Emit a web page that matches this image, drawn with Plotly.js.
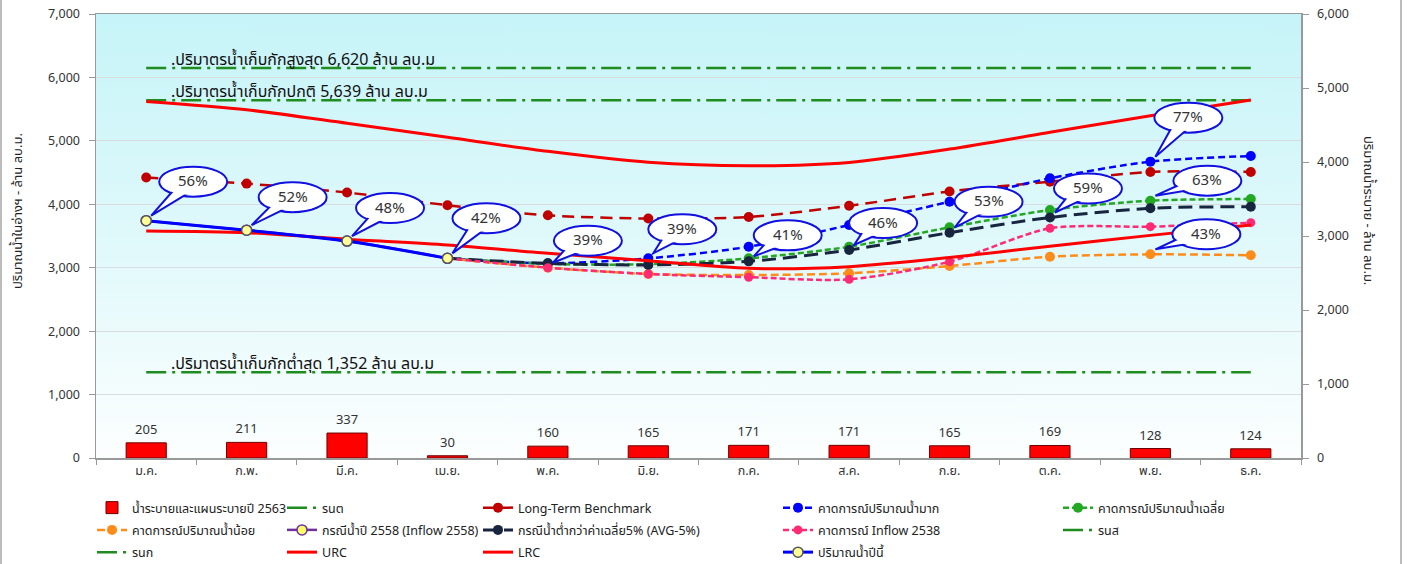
<!DOCTYPE html>
<html><head><meta charset="utf-8">
<script src="https://cdn.plot.ly/plotly-3.0.1.min.js"></script>
<style>html,body{margin:0;padding:0;background:#fff;}#chart{width:1408px;height:564px;}</style>
</head><body><div id="chart"></div>
<script>
// ---------- data ----------
const months = ['ม.ค.','ก.พ.','มี.ค.','เม.ย.','พ.ค.','มิ.ย.','ก.ค.','ส.ค.','ก.ย.','ต.ค.','พ.ย.','ธ.ค.'];
const release2563 = [205,211,337,30,160,165,171,171,165,169,128,124];
const levelMin  = [1352,1352,1352,1352,1352,1352,1352,1352,1352,1352,1352,1352];
const levelMax  = [6150,6150,6150,6150,6150,6150,6150,6150,6150,6150,6150,6150];
const levelNorm = [5639,5639,5639,5639,5639,5639,5639,5639,5639,5639,5639,5639];
const benchmark = [4421,4326,4185,3985,3826,3775,3800,3976,4202,4357,4510,4510];
const wetForecast = [null,null,null,3148,3069,3148,3331,3673,4041,4409,4672,4761];
const avgForecast = [null,null,null,3148,3060,3055,3148,3331,3637,3910,4057,4083];
const lowForecast = [null,null,null,3148,3000,2901,2885,2912,3027,3174,3211,3196];
const inflow2558 = [3742,3592,3420,3148,null,null,null,null,null,null,null,null];
const avgMinus5 = [null,null,null,3148,3069,3043,3100,3279,3552,3792,3937,3962];
const inflow2538 = [null,null,null,3148,3000,2901,2850,2817,3095,3621,3647,3710];
const urc = [5620,5490,5277,5056,4835,4662,4608,4660,4870,5135,5395,5644];
const lrc = [3579,3552,3448,3358,3227,3110,2990,3016,3160,3340,3510,3673];
const currentYear = [3742,3592,3420,3148,null,null,null,null,null,null,null,null];

const levelLabels = ['.ปริมาตรน้ำเก็บกักสูงสุด 6,620 ล้าน ลบ.ม','.ปริมาตรน้ำเก็บกักปกติ 5,639 ล้าน ลบ.ม','.ปริมาตรน้ำเก็บกักต่ำสุด 1,352 ล้าน ลบ.ม'];

const bubbleLabels = ['56%','52%','48%','42%','39%','39%','41%','46%','53%','59%','77%','63%','43%'];
const bubbleMonth  = [0,1,2,3,4,5,6,7,8,9,10,10,10];
const bubbleSeries = ['cur','cur','cur','cur','i2538','wet','a5','a5','a5','a5','wet','avg','low'];

// ---------- styling / layout ----------
const FONT = "Tahoma, 'Noto Sans Thai', 'Leelawadee UI', 'DejaVu Sans', sans-serif";
const seriesByKey = {cur:currentYear, i2538:inflow2538, wet:wetForecast, a5:avgMinus5, avg:avgForecast, low:lowForecast};
// bubble centre offsets from target point (px, screen: right / down)
const bubbleOff = [[47,-39],[46,-33],[43,-33],[39,-40],[40,-27],[34,-29],[39,-26],[34,-27],[39,-31],[38,-29],[38,-44],[57,-20],[56,-20]];

const GREEN_DD = '20px,6px,3px,6px';
const mk = (c,s)=>({color:c,size:s||10});

const traces = [
 {type:'bar', name:'น้ำระบายและแผนระบายปี 2563', x:months, y:release2563, yaxis:'y2', width:0.4,
  marker:{color:'#ff0000', line:{color:'#6b0000', width:1}}, texttemplate:'%{y}', textposition:'outside',
  textfont:{size:13,color:'#333'}, cliponaxis:false, legend:'legend'},
 {type:'scatter', mode:'lines', name:'รนต', x:months, y:levelMin, line:{color:'#1e8c1e', width:2.5, dash:GREEN_DD}, legend:'legend2'},
 {type:'scatter', mode:'lines+markers', name:'Long-Term Benchmark', x:months, y:benchmark, line:{color:'#c00000', width:2.5, dash:'12px,7px', shape:'spline', smoothing:0.8}, marker:mk('#c00000'), legend:'legend3'},
 {type:'scatter', mode:'lines+markers', name:'คาดการณ์ปริมาณน้ำมาก', x:months, y:wetForecast, line:{color:'#0000ff', width:2.5, dash:'7px,4px', shape:'spline', smoothing:0.8}, marker:mk('#0000ff'), legend:'legend4'},
 {type:'scatter', mode:'lines+markers', name:'คาดการณ์ปริมาณน้ำเฉลี่ย', x:months, y:avgForecast, line:{color:'#22a822', width:2.5, dash:'6px,3px', shape:'spline', smoothing:0.8}, marker:mk('#22a822'), legend:'legend5'},
 {type:'scatter', mode:'lines+markers', name:'คาดการณ์ปริมาณน้ำน้อย', x:months, y:lowForecast, line:{color:'#ff8c1a', width:2.5, dash:'8px,4px', shape:'spline', smoothing:0.8}, marker:mk('#ff8c1a'), legend:'legend'},
 {type:'scatter', mode:'lines+markers', name:'กรณีน้ำปี 2558 (Inflow 2558)', x:months, y:inflow2558, line:{color:'#7030a0', width:2.5, shape:'spline', smoothing:0.8}, marker:{color:'#ffff66', size:10, line:{color:'#7030a0', width:1.5}}, legend:'legend2'},
 {type:'scatter', mode:'lines+markers', name:'กรณีน้ำต่ำกว่าค่าเฉลี่ย5% (AVG-5%)', x:months, y:avgMinus5, line:{color:'#17253f', width:3, dash:'14px,7px', shape:'spline', smoothing:0.8}, marker:mk('#17253f'), legend:'legend3'},
 {type:'scatter', mode:'lines+markers', name:'คาดการณ์ Inflow 2538', x:months, y:inflow2538, line:{color:'#ff2a74', width:2.5, dash:'6px,3px', shape:'spline', smoothing:0.8}, marker:mk('#ff2a74',9), legend:'legend4'},
 {type:'scatter', mode:'lines', name:'รนส', x:months, y:levelMax, line:{color:'#1e8c1e', width:2.5, dash:GREEN_DD}, legend:'legend5'},
 {type:'scatter', mode:'lines', name:'รนก', x:months, y:levelNorm, line:{color:'#1e8c1e', width:2.5, dash:GREEN_DD}, legend:'legend'},
 {type:'scatter', mode:'lines', name:'URC', x:months, y:urc, line:{color:'#ff0000', width:3, shape:'spline', smoothing:0.8}, legend:'legend2'},
 {type:'scatter', mode:'lines', name:'LRC', x:months, y:lrc, line:{color:'#ff0000', width:3, shape:'spline', smoothing:0.8}, legend:'legend3'},
 {type:'scatter', mode:'lines+markers', name:'ปริมาณน้ำปีนี้', x:months, y:currentYear, line:{color:'#0000ff', width:3, shape:'spline', smoothing:0.6}, marker:{color:'#ffff99', size:10, line:{color:'#555', width:1.5}}, legend:'legend4'}
];
traces.forEach((t,i)=>{ t.legendgroup = 'g'+i; t.hoverinfo='skip'; });

const ML=96, MR=107, MT=14, MB=106, W=1408, H=564;
const PW=W-ML-MR, PH=H-MT-MB;
const px2x = p => (p-ML)/PW;
const px2y = p => (H-MB-p)/PH;

const legendBase = {orientation:'v', xanchor:'left', yanchor:'top', y:px2y(493), bgcolor:'rgba(0,0,0,0)', font:{family:FONT,size:12.5,color:'#222'}, tracegroupgap:3, itemwidth:30};
const legendCols = [92,282,478,778,1058];

const shapes = [];
const annotations = [];

// level labels
[levelMax, levelNorm, levelMin].forEach((arr,i)=>{
  annotations.push({x:0, y:arr[0], xref:'x', yref:'y', text:levelLabels[i], showarrow:false, xanchor:'left', yanchor:'middle', xshift:23, yshift:8, font:{family:FONT, size:16, color:'#111'}});
});

// callout bubbles
const A=34, B=15;
bubbleLabels.forEach((lab,i)=>{
  const m = bubbleMonth[i];
  const v = seriesByKey[bubbleSeries[i]][m];
  const cx = bubbleOff[i][0], cy = -bubbleOff[i][1];
  const tx = 5, ty = 5;
  const base = {xref:'x', yref:'y', xsizemode:'pixel', ysizemode:'pixel', xanchor:m, yanchor:v, layer:'above'};
  shapes.push(Object.assign({type:'circle', x0:cx-A, x1:cx+A, y0:cy-B, y1:cy+B, line:{color:'#1010e0', width:2}, fillcolor:'#ffffff'}, base));
  const phi = Math.atan2((ty-cy)/B, (tx-cx)/A), d=0.3;
  const p1=[cx+0.8*A*Math.cos(phi-d), cy+0.8*B*Math.sin(phi-d)];
  const p2=[cx+0.8*A*Math.cos(phi+d), cy+0.8*B*Math.sin(phi+d)];
  shapes.push(Object.assign({type:'path', path:`M${p1[0].toFixed(2)},${p1[1].toFixed(2)} L${tx},${ty} L${p2[0].toFixed(2)},${p2[1].toFixed(2)} Z`, line:{color:'#1010e0', width:2}, fillcolor:'#ffffff'}, base));
  shapes.push(Object.assign({type:'circle', x0:cx-A+1.6, x1:cx+A-1.6, y0:cy-B+1.6, y1:cy+B-1.6, line:{width:0}, fillcolor:'#ffffff'}, base));
  annotations.push({x:m, y:v, xref:'x', yref:'y', text:lab, showarrow:false, xshift:cx, yshift:cy, font:{family:FONT, size:15, color:'#333'}});
});

// axis titles
annotations.push({xref:'paper', yref:'paper', x:px2x(18), y:px2y(211), xanchor:'center', yanchor:'middle', text:'ปริมาณน้ำในอ่างฯ - ล้าน ลบ.ม.', textangle:-90, showarrow:false, font:{family:FONT,size:13,color:'#222'}});
annotations.push({xref:'paper', yref:'paper', x:px2x(1368), y:px2y(210), xanchor:'center', yanchor:'middle', text:'ปริมาณน้ำระบาย - ล้าน ลบ.ม.', textangle:90, showarrow:false, font:{family:FONT,size:13,color:'#222'}});

// outer chart frame (left/right edges)
shapes.push({type:'line', xref:'paper', yref:'paper', x0:px2x(1), x1:px2x(1), y0:px2y(0), y1:px2y(H), line:{color:'#a6a6a6', width:1.5}, layer:'below'});
shapes.push({type:'line', xref:'paper', yref:'paper', x0:px2x(1401), x1:px2x(1401), y0:px2y(0), y1:px2y(H), line:{color:'#a6a6a6', width:1.5}, layer:'below'});

const bgSvg = "<svg xmlns='http://www.w3.org/2000/svg' width='100' height='100' preserveAspectRatio='none'><defs><linearGradient id='g' x1='0' y1='0' x2='0' y2='1'><stop offset='0' stop-color='#c6f4f8'/><stop offset='0.55' stop-color='#e2f9fb'/><stop offset='1' stop-color='#fcfefe'/></linearGradient></defs><rect width='100' height='100' fill='url(#g)'/></svg>";

const layout = {
  width:W, height:H, margin:{l:ML, r:MR, t:MT, b:MB, pad:0, autoexpand:false},
  paper_bgcolor:'#ffffff', plot_bgcolor:'rgba(0,0,0,0)',
  font:{family:FONT, size:12.5, color:'#333'},
  showlegend:true, hovermode:false,
  images:[{source:'data:image/svg+xml;charset=utf-8,'+encodeURIComponent(bgSvg), xref:'paper', yref:'paper', x:0, y:1, sizex:1, sizey:1, sizing:'stretch', xanchor:'left', yanchor:'top', layer:'below'}],
  xaxis:{type:'category', range:[-0.5,11.5], showline:true, mirror:true, linecolor:'#999', linewidth:1.5, ticks:'outside', tickson:'boundaries', ticklen:5, tickcolor:'#999', showgrid:false, tickfont:{family:FONT,size:12.5,color:'#333'}, fixedrange:true},
  yaxis:{range:[0,7000], dtick:1000, tickformat:',d', showline:true, linecolor:'#999', linewidth:1.5, ticks:'outside', ticklen:6, tickcolor:'#999', showgrid:true, gridcolor:'#d9dcdc', gridwidth:1, zeroline:false, ticklabelstandoff:6, tickfont:{family:FONT,size:12.5,color:'#333'}, fixedrange:true},
  yaxis2:{overlaying:'y', side:'right', range:[0,6000], dtick:1000, tickformat:',d', showline:true, linecolor:'#999', linewidth:1.5, ticks:'outside', ticklen:6, tickcolor:'#999', showgrid:false, zeroline:false, ticklabelstandoff:6, tickfont:{family:FONT,size:12.5,color:'#333'}, fixedrange:true},
  shapes:shapes, annotations:annotations
};
['legend','legend2','legend3','legend4','legend5'].forEach((k,i)=>{ layout[k] = Object.assign({}, legendBase, {x:px2x(legendCols[i])}); });

Plotly.newPlot('chart', traces, layout, {displayModeBar:false, staticPlot:true});
</script></body></html>
